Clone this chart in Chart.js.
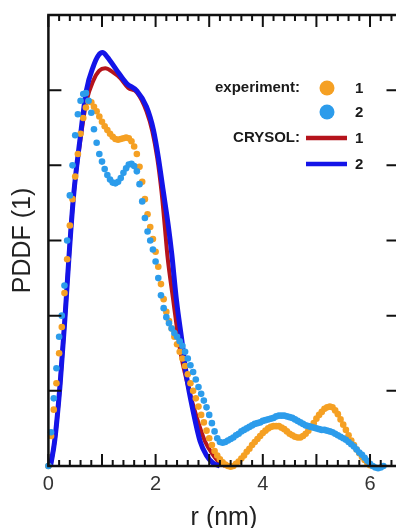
<!DOCTYPE html>
<html><head><meta charset="utf-8">
<script src="https://cdn.jsdelivr.net/npm/chart.js@4.4.1/dist/chart.umd.min.js"></script>
<style>
html,body{margin:0;padding:0;background:#fff;overflow:hidden;width:396px;height:528px}
#wrap{position:absolute;left:0;top:0;width:404px;height:540px}
</style></head><body><div id="wrap"><canvas id="c" width="404" height="540"></canvas></div>
<script>
// r grid of the experimental PDDF points (nm)
const rGrid = [
 0,0.05,0.1,0.15,0.2,0.25,0.3,0.35,0.4,0.45,
 0.5,0.55,0.6,0.65,0.7,0.75,0.8,0.85,0.9,0.95,
 1,1.05,1.1,1.15,1.2,1.25,1.3,1.35,1.4,1.45,
 1.5,1.55,1.6,1.65,1.7,1.75,1.8,1.85,1.9,1.95,
 2,2.05,2.1,2.15,2.2,2.25,2.3,2.35,2.4,2.45,
 2.5,2.55,2.6,2.65,2.7,2.75,2.8,2.85,2.9,2.95,
 3,3.05,3.1,3.15,3.2,3.25,3.3,3.35,3.4,3.45,
 3.5,3.55,3.6,3.65,3.7,3.75,3.8,3.85,3.9,3.95,
 4,4.05,4.1,4.15,4.2,4.25,4.3,4.35,4.4,4.45,
 4.5,4.55,4.6,4.65,4.7,4.75,4.8,4.85,4.9,4.95,
 5,5.05,5.1,5.15,5.2,5.25,5.3,5.35,5.4,5.45,
 5.5,5.55,5.6,5.65,5.7,5.75,5.8,5.85,5.9,5.95,
 6,6.05,6.1,6.15,6.2,6.25
];
// experiment 1 (orange dots)
const exp1 = [
 0,0.4,0.75,1.1,1.5,1.85,2.3,2.75,3.2,3.55,
 3.85,4.15,4.42,4.63,4.77,4.85,4.84,4.78,4.72,4.65,
 4.58,4.52,4.47,4.42,4.38,4.35,4.34,4.35,4.36,4.37,
 4.36,4.32,4.25,4.15,3.98,3.78,3.55,3.35,3.18,3.02,
 2.85,2.65,2.42,2.22,2.05,1.93,1.83,1.72,1.62,1.52,
 1.43,1.33,1.22,1.1,1.0,0.9,0.79,0.68,0.58,0.47,
 0.37,0.28,0.2,0.14,0.09,0.05,0.02,0.0,-0.01,0.0,
 0.03,0.06,0.1,0.14,0.19,0.23,0.28,0.32,0.36,0.4,
 0.44,0.47,0.5,0.52,0.53,0.53,0.53,0.51,0.49,0.46,
 0.43,0.41,0.39,0.38,0.38,0.4,0.43,0.47,0.52,0.57,
 0.63,0.68,0.72,0.76,0.78,0.79,0.78,0.74,0.69,0.62,
 0.55,0.48,0.41,0.34,0.28,0.22,0.17,0.12,0.08,0.04,
 0.01
];
// experiment 2 (light blue dots)
const exp2 = [
 0,0.45,0.9,1.3,1.72,2.0,2.4,3.0,3.6,4.0,
 4.4,4.68,4.86,4.95,4.96,4.86,4.7,4.48,4.3,4.15,
 4.05,3.95,3.87,3.81,3.77,3.76,3.78,3.83,3.9,3.96,
 4.01,4.02,3.99,3.92,3.75,3.52,3.3,3.12,3.0,2.88,
 2.72,2.5,2.27,2.1,1.98,1.9,1.83,1.77,1.72,1.66,
 1.6,1.52,1.43,1.34,1.25,1.15,1.05,0.96,0.87,0.78,
 0.68,0.57,0.46,0.37,0.32,0.31,0.32,0.34,0.36,0.38,
 0.41,0.43,0.46,0.48,0.5,0.52,0.54,0.56,0.57,0.58,
 0.6,0.61,0.62,0.63,0.64,0.66,0.67,0.67,0.67,0.66,
 0.65,0.64,0.62,0.6,0.58,0.56,0.54,0.53,0.52,0.51,
 0.5,0.49,0.48,0.48,0.47,0.46,0.45,0.43,0.41,0.39,
 0.37,0.35,0.32,0.29,0.26,0.22,0.18,0.15,0.11,0.07,
 0.03,0.0,-0.02,-0.03,-0.02,0.0
];
// CRYSOL 1 (dark red line)
const crysolR1 = [0.04,0.12,0.22,0.31,0.39,0.47,0.59,0.71,0.84,0.95,1.06,1.2,1.34,1.49,1.65,1.83,1.94,2.03,2.11,2.17,2.22,2.33,2.46,2.61,2.77,2.92,3.08,3.2,3.3];
const crysol1  = [0,0.35,1.1,1.98,2.85,3.6,4.3,4.85,5.13,5.26,5.29,5.24,5.16,5.03,4.97,4.72,4.45,4.1,3.65,3.2,2.8,2.2,1.53,1.05,0.64,0.33,0.14,0.04,0];
// CRYSOL 2 (blue line)
const crysolR2 = [0.04,0.12,0.22,0.31,0.39,0.47,0.59,0.71,0.84,0.93,1.01,1.1,1.27,1.46,1.65,1.83,1.96,2.05,2.14,2.24,2.3,2.39,2.49,2.58,2.7,2.83,2.95,3.07,3.2];
const crysol2  = [0,0.35,1.1,1.98,2.85,3.6,4.35,5.0,5.32,5.46,5.5,5.44,5.27,5.09,4.99,4.78,4.47,4.11,3.67,3.18,2.83,2.2,1.67,1.18,0.73,0.33,0.14,0.04,0];

// axes ticks and labels
const xTickValues = [0,0.2,0.4,0.6,0.8,1,1.2,1.4,1.6,1.8,2,2.2,2.4,2.6,2.8,3,3.2,3.4,3.6,3.8,4,4.2,4.4,4.6,4.8,5,5.2,5.4,5.6,5.8,6,6.2,6.4];
const xLabelValues = [0,2,4,6];
const xTickLabels = ['0','2','4','6'];
const yTickValues = [0,1,2,3,4,5,6];
const xTitle = 'r (nm)';
const yTitle = 'PDDF (1)';
const legendGroups = ['experiment:','CRYSOL:'];
const legendItems = ['1','2'];

const C_ORANGE = '#F5A023', C_LBLUE = '#2C9CEB', C_RED = '#B5141C', C_BLUE = '#1414E8';
const FONT = '"Liberation Sans", Arial, Helvetica, sans-serif';

const pts = (xs, ys) => ys.map((y, i) => ({x: xs[i], y}));

const framePlugin = {
  id: 'frame',
  afterDatasetsDraw(chart) {
    const {ctx, chartArea: {left, right, top, bottom}, scales: {x, y}} = chart;
    ctx.save();
    ctx.strokeStyle = '#111';
    ctx.lineWidth = 2;
    x.ticks.forEach(t => {
      const px = x.getPixelForValue(t.value);
      const len = Math.abs(t.value - Math.round(t.value)) < 1e-6 ? 12 : 6;
      ctx.beginPath();
      ctx.moveTo(px, bottom); ctx.lineTo(px, bottom - len);
      ctx.moveTo(px, top); ctx.lineTo(px, top + len);
      ctx.stroke();
    });
    y.ticks.forEach(t => {
      const py = y.getPixelForValue(t.value);
      ctx.beginPath();
      ctx.moveTo(left, py); ctx.lineTo(left + 13, py);
      ctx.moveTo(right, py); ctx.lineTo(right - 13, py);
      ctx.stroke();
    });
    ctx.lineWidth = 2.5;
    ctx.strokeRect(left, top, right - left, bottom - top);
    ctx.restore();
  }
};

const legendPlugin = {
  id: 'customLegend',
  afterDraw(chart) {
    const ctx = chart.ctx;
    ctx.save();
    ctx.font = 'bold 15px ' + FONT;
    ctx.fillStyle = '#1a1a1a';
    ctx.textBaseline = 'middle';
    ctx.textAlign = 'right';
    ctx.fillText(legendGroups[0], 300, 88);
    ctx.fillText(legendGroups[1], 300, 138);
    ctx.textAlign = 'left';
    const rows = [88, 112, 138, 164];
    rows.forEach((yy, i) => ctx.fillText(legendItems[i % 2], 355, yy + 1));
    [[C_ORANGE, rows[0]], [C_LBLUE, rows[1]]].forEach(([c, yy]) => {
      ctx.beginPath(); ctx.fillStyle = c; ctx.arc(327, yy, 7.5, 0, Math.PI * 2); ctx.fill();
    });
    [[C_RED, rows[2]], [C_BLUE, rows[3]]].forEach(([c, yy]) => {
      ctx.beginPath(); ctx.strokeStyle = c; ctx.lineWidth = 4.5;
      ctx.moveTo(306, yy); ctx.lineTo(347, yy); ctx.stroke();
    });
    ctx.restore();
  }
};

new Chart(document.getElementById('c'), {
  type: 'scatter',
  data: {
    datasets: [
      {label: 'experiment 2', data: pts(rGrid, exp2), showLine: false, pointRadius: 3.3,
       pointBackgroundColor: C_LBLUE, pointBorderWidth: 0, order: 1, clip: false},
      {label: 'experiment 1', data: pts(rGrid, exp1), showLine: false, pointRadius: 3.3,
       pointBackgroundColor: C_ORANGE, pointBorderWidth: 0, order: 2, clip: false},
      {label: 'CRYSOL 2', data: pts(crysolR2, crysol2), showLine: true, pointRadius: 0,
       borderColor: C_BLUE, borderWidth: 5, cubicInterpolationMode: 'monotone', order: 3, clip: false},
      {label: 'CRYSOL 1', data: pts(crysolR1, crysol1), showLine: true, pointRadius: 0,
       borderColor: C_RED, borderWidth: 4, cubicInterpolationMode: 'monotone', order: 4, clip: false}
    ]
  },
  options: {
    responsive: false,
    animation: false,
    devicePixelRatio: 1,
    layout: {padding: {left: 8.4, top: 15, right: 4.5, bottom: 0}},
    plugins: {legend: {display: false}, tooltip: {enabled: false}},
    scales: {
      x: {
        type: 'linear', min: 0, max: 6.55,
        afterBuildTicks: s => { s.ticks = xTickValues.map(v => ({value: v})); },
        grid: {display: false, drawTicks: false},
        border: {display: false},
        ticks: {
          autoSkip: false, maxRotation: 0, padding: 6, color: '#333',
          font: {family: FONT, size: 20},
          callback: v => { const i = xLabelValues.indexOf(v); return i >= 0 ? xTickLabels[i] : ''; }
        },
        title: {display: true, text: xTitle, color: '#222', font: {family: FONT, size: 25},
                padding: {top: 1.5, bottom: 6.5}}
      },
      y: {
        type: 'linear', min: 0, max: 6,
        afterBuildTicks: s => { s.ticks = yTickValues.map(v => ({value: v})); },
        grid: {display: false, drawTicks: false},
        border: {display: false},
        ticks: {display: false},
        title: {display: true, text: yTitle, color: '#222', font: {family: FONT, size: 25},
                padding: {top: 0, bottom: 10}}
      }
    }
  },
  plugins: [framePlugin, legendPlugin]
});
</script></body></html>
